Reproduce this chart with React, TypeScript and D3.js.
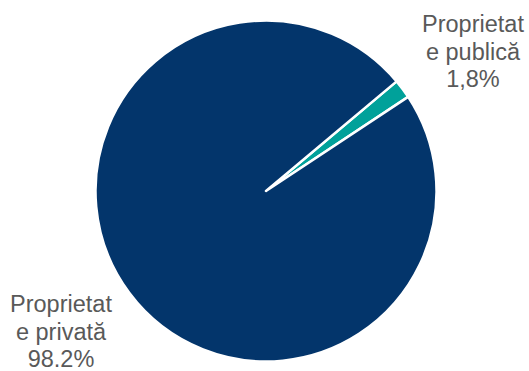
import React from "react";
import * as d3 from "d3";

// Ownership shares (percent)
const categories = ["Proprietate publică", "Proprietate privată"];
const values = [1.8, 98.2];
const labelLines = [
  ["Proprietat", "e publică", "1,8%"],
  ["Proprietat", "e privată", "98.2%"],
];
const colors = ["#00A19A", "#03356B"];

const W = 529;
const H = 371;
const cx = 266;
const cy = 191;
const radius = 170.5;

export default function App() {
  const pie = d3
    .pie<number>()
    .sort(null)
    .value((d) => d)
    .startAngle((50 * Math.PI) / 180)
    .endAngle((50 * Math.PI) / 180 + 2 * Math.PI);
  const arcs = pie(values);
  const arc = d3.arc<d3.PieArcDatum<number>>().innerRadius(0).outerRadius(radius);

  // label anchor (centre x, first baseline y) for each slice
  const labelPos = [
    { x: 473, y: 32 },
    { x: 61, y: 312 },
  ];

  return (
    <div style={{ position: "fixed", left: 0, top: 0 }}>
      <svg width={W} height={H} style={{ display: "block", background: "#fff" }}>
        <g transform={`translate(${cx},${cy})`}>
          {arcs.map((a, i) => (
            <path
              key={categories[i]}
              d={arc(a) || ""}
              fill={colors[i]}
              stroke="#fff"
              strokeWidth={2.5}
              strokeLinejoin="round"
            />
          ))}
        </g>
        {labelLines.map((lines, i) => (
          <text
            key={categories[i]}
            x={labelPos[i].x}
            y={labelPos[i].y}
            textAnchor="middle"
            fontFamily="'Liberation Sans', Arial, sans-serif"
            fontSize={23.5}
            fill="#595959"
          >
            {lines.map((t, j) => (
              <tspan key={j} x={labelPos[i].x} y={labelPos[i].y + j * 27.5}>
                {t}
              </tspan>
            ))}
          </text>
        ))}
      </svg>
    </div>
  );
}
